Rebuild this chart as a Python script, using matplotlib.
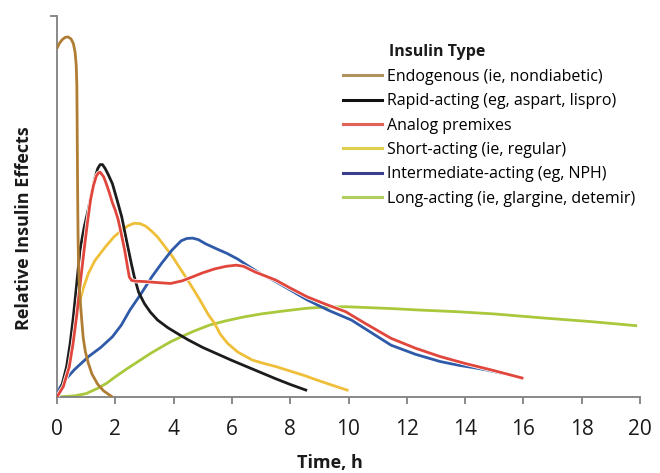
import matplotlib
matplotlib.use("Agg")
import matplotlib.pyplot as plt
import matplotlib.patheffects as pe

plt.rcParams['font.family'] = ['Open Sans', 'DejaVu Sans']

# ---- data ----
labels = ["Endogenous (ie, nondiabetic)",
          "Rapid-acting (eg, aspart, lispro)",
          "Analog premixes",
          "Short-acting (ie, regular)",
          "Intermediate-acting (eg, NPH)",
          "Long-acting (ie, glargine, detemir)"]
legend_title = "Insulin Type"
colors = ["#b07d35", "#1c1c1c", "#e0463c", "#efbf3a", "#2f5aa8", "#a9c83c"]
legend_colors = ["#b0925e", "#111111", "#e06358", "#e0cf4e", "#3d3d8f", "#b0cf5e"]

endo_t = [0, 0.08, 0.18, 0.28, 0.38, 0.48, 0.56, 0.62, 0.66, 0.68, 0.69, 0.70, 0.71, 0.72, 0.735, 0.76, 0.80, 0.85, 0.90, 0.97, 1.07, 1.2, 1.4, 1.6, 1.9]
endo_v = [91.5, 92.8, 93.8, 94.4, 94.5, 94.0, 92.8, 90.5, 87, 82, 73, 62, 52, 44, 36, 30, 25, 20, 15.5, 12, 9, 6, 3.3, 1.6, 0]

rapid_t = [0, 0.15, 0.33, 0.45, 0.56, 0.68, 0.79, 0.93, 1.08, 1.2, 1.3, 1.4, 1.48, 1.56, 1.65, 1.75, 1.9, 2.05, 2.22, 2.4, 2.55, 2.65, 2.8, 3.0, 3.2, 3.45, 3.8, 4.1, 4.5, 5.0, 5.5, 6.0, 6.5, 7.0, 7.5, 8.0, 8.58]
rapid_v = [0, 2.5, 8, 14, 21, 30, 38.6, 44.5, 49.5, 54, 57.5, 60, 61, 61, 60, 58.5, 56, 52, 47.3, 40.5, 35, 31.6, 27.5, 24.5, 22.3, 20.2, 18.2, 16.8, 15, 13, 11.3, 9.6, 8.0, 6.4, 4.8, 3.3, 1.7]

premix_t = [0, 0.22, 0.42, 0.55, 0.67, 0.8, 0.93, 1.04, 1.15, 1.25, 1.35, 1.42, 1.48, 1.6, 1.7, 1.8, 1.9, 2.0, 2.1, 2.2, 2.32, 2.4, 2.48, 2.56, 2.7, 3.0, 3.5, 3.9, 4.3, 4.67, 5.0, 5.4, 5.8, 6.15, 6.4, 6.8, 7.5, 8.0, 8.58, 9.2, 9.9, 10.6, 11.46, 12.3, 13.15, 14.0, 14.9, 16.0]
premix_v = [0, 2.8, 7.9, 14, 21, 30, 38.6, 45.5, 51.7, 55.5, 58, 58.8, 59, 57.8, 55.8, 53.5, 51, 49, 46.5, 43, 38.6, 35, 31.5, 30.6, 30.4, 30.3, 30.0, 29.8, 30.5, 31.6, 32.6, 33.6, 34.3, 34.6, 34.3, 32.8, 30.7, 28.6, 26.3, 24.4, 22.4, 19.2, 15.4, 12.8, 10.6, 8.8, 7.1, 4.9]

short_t = [0, 0.2, 0.35, 0.5, 0.62, 0.73, 0.9, 1.08, 1.3, 1.66, 1.95, 2.22, 2.45, 2.65, 2.85, 3.05, 3.25, 3.45, 3.7, 3.95, 4.2, 4.5, 4.9, 5.2, 5.4, 5.6, 5.85, 6.2, 6.7, 7.1, 7.5, 8.0, 8.5, 8.9, 9.4, 10.0]
short_v = [0, 3.5, 7.5, 12.3, 18, 23.7, 28.5, 32.5, 35.8, 39.4, 42, 43.8, 45, 45.6, 45.5, 44.8, 43.5, 42, 39.5, 37, 34, 30.5, 25.5, 21.5, 19.4, 16.5, 14.1, 11.8, 9.7, 8.8, 8.0, 6.8, 5.6, 4.5, 3.2, 1.7]

inter_t = [0, 0.1, 0.28, 0.6, 1.08, 1.5, 1.9, 2.2, 2.5, 2.9, 3.25, 3.6, 3.95, 4.26, 4.45, 4.65, 4.85, 5.1, 5.5, 5.83, 6.2, 6.6, 7.0, 7.5, 8.0, 8.58, 9.3, 10.1, 10.8, 11.46, 12.3, 13.15, 13.8, 14.3, 14.8, 15.27]
inter_v = [0, 2.5, 4.5, 7.2, 10.6, 13, 15.8, 18.8, 22.8, 27.3, 31.5, 35.2, 38.6, 41.0, 41.6, 41.7, 41.3, 40.2, 38.8, 37.7, 36.2, 34.2, 32.3, 30.3, 28.1, 25.5, 22.8, 20.2, 16.8, 13.6, 11.2, 9.3, 8.3, 7.7, 7.0, 6.2]

long_t = [0, 0.6, 1.0, 1.4, 1.7, 2.0, 2.4, 2.86, 3.2, 3.6, 3.9, 4.26, 4.7, 5.24, 5.8, 6.4, 7.0, 7.8, 8.58, 9.2, 9.9, 10.55, 11.5, 12.5, 13.7, 15.0, 16.75, 18.3, 19.9]
long_v = [0, 0.3, 0.9, 2.3, 3.6, 5.3, 7.4, 9.7, 11.4, 13.2, 14.5, 15.8, 17.3, 18.9, 20.0, 21.0, 21.8, 22.6, 23.3, 23.6, 23.7, 23.5, 23.2, 22.8, 22.4, 21.8, 20.7, 19.8, 18.7]

xticks = [0, 2, 4, 6, 8, 10, 12, 14, 16, 18, 20]

series = [(endo_t, endo_v), (rapid_t, rapid_v), (premix_t, premix_v),
          (short_t, short_v), (inter_t, inter_v), (long_t, long_v)]

W, H = 660, 473
fig = plt.figure(figsize=(W / 100, H / 100), dpi=100)
ax = fig.add_axes([57 / W, 76 / H, (640 - 57) / W, (397 - 16) / H])

draw_order = [5, 3, 4, 1, 2, 0]
for z, i in enumerate(draw_order):
    t, v = series[i]
    kw = {}
    if i == 2:
        kw['path_effects'] = [pe.Stroke(linewidth=3.1, foreground='white'), pe.Normal()]
    ax.plot(t, v, color=colors[i], lw=2.0, solid_joinstyle='round',
            solid_capstyle='butt', zorder=2 + z, **kw)

ax.set_xlim(0, 20)
ax.set_ylim(0, 100)
ax.set_xticks(xticks)
ax.set_xticklabels([str(x) for x in xticks], fontsize=15, color='#1a1a1a')
ax.set_yticks([100])
ax.set_yticklabels([])
for s in ['top', 'right']:
    ax.spines[s].set_visible(False)
for s in ['left', 'bottom']:
    ax.spines[s].set_color('#808080')
    ax.spines[s].set_linewidth(1.3)
ax.tick_params(axis='both', direction='out', length=5, width=1.3, color='#808080')
ax.tick_params(axis='x', pad=11)

fig.text(330 / W, 1 - 463 / H, "Time, h", fontsize=13, fontweight='bold',
         color='#1a1a1a', ha='center', va='center')
fig.text(24 / W, 1 - 228 / H, "Relative Insulin Effects", fontsize=13,
         fontweight='bold', color='#1a1a1a', ha='center', va='center', rotation=90)

# legend
handles = [plt.Line2D([], [], color=legend_colors[i], lw=2.2) for i in range(6)]
leg = ax.legend(handles, labels, loc='upper left',
                bbox_to_anchor=(343 / W, 1 - 69 / H), bbox_transform=fig.transFigure,
                frameon=False, fontsize=11.5, handlelength=2.45, handletextpad=0.3,
                labelspacing=0.52, borderaxespad=0, borderpad=0)
fig.text(389 / W, 1 - 52 / H, legend_title, fontsize=11.5, fontweight='bold',
         color='#1a1a1a', ha='left', va='center')

fig.savefig("out.png", dpi=100)
